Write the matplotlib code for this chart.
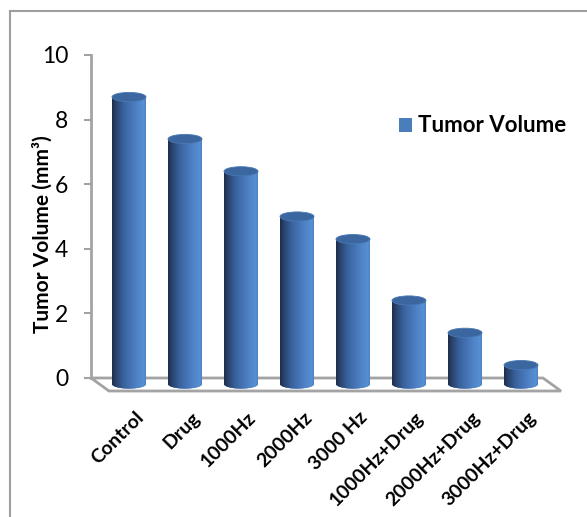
import numpy as np
import matplotlib
matplotlib.use("Agg")
import matplotlib.pyplot as plt
from matplotlib.patches import Polygon, Ellipse, Patch
from matplotlib.lines import Line2D
from matplotlib.colors import LinearSegmentedColormap
import matplotlib.transforms as mtransforms

# ---- data ----
categories = ["Control", "Drug", "1000Hz", "2000Hz", "3000 Hz",
              "1000Hz+Drug", "2000Hz+Drug", "3000Hz+Drug"]
tumor_volume = [8.7, 7.4, 6.4, 5.0, 4.3, 2.4, 1.4, 0.4]
y_ticks = [0, 2, 4, 6, 8, 10]
series_name = "Tumor Volume"
y_label = "Tumor Volume (mm³)"

plt.rcParams['font.family'] = ['Lato', 'DejaVu Sans']

W, H = 587, 517
fig = plt.figure(figsize=(W / 100, H / 100), dpi=100)

# axes placed in pixel terms
px_left, px_right, px_top, px_bottom = 91, 543, 55, 378
ax = fig.add_axes([px_left / W, 1 - px_bottom / H,
                   (px_right - px_left) / W, (px_bottom - px_top) / H])

slot_px = 56.0
first_center_px = 129.0
xlo = (px_left - first_center_px) / slot_px
xhi = (px_right - first_center_px) / slot_px
ypx = (px_bottom - px_top) / 10.0  # pixels per unit

# 3-D style offsets (in data units)
ddx = 18 / slot_px
ddy = -13 / ypx
half_w = 17 / slot_px
ell_h = 4.6 / ypx
base = -6 / ypx

gray = '#a3a3a3'

# floor
floor = Polygon([(xlo, 0), (xhi, 0), (xhi + ddx, ddy), (xlo + ddx, ddy)],
                closed=True, fill=False, edgecolor=gray, lw=2.0,
                clip_on=False, zorder=1)
ax.add_patch(floor)

cyl_cmap = LinearSegmentedColormap.from_list(
    "cyl", [(0.0, '#1d2d4b'), (0.12, '#2a436c'), (0.35, '#3a639e'),
            (0.6, '#4777b9'), (0.8, '#5188cb'), (0.94, '#588fd4'), (1.0, '#4d7fbf')])
grad = np.linspace(0, 1, 256).reshape(1, -1)

x = np.arange(len(categories))
theta = np.linspace(np.pi, 2 * np.pi, 60)
for c, v in zip(x, tumor_volume):
    pts = [(c + half_w * np.cos(t), base + ell_h * np.sin(t)) for t in theta]
    pts += [(c + half_w, v), (c - half_w, v)]
    body = Polygon(pts, closed=True, facecolor='#3f6ba3', edgecolor='none',
                   clip_on=False, zorder=2)
    ax.add_patch(body)
    im = ax.imshow(grad, cmap=cyl_cmap, extent=[c - half_w, c + half_w, base - ell_h, v],
                   aspect='auto', interpolation='bilinear', zorder=3)
    im.set_clip_box(fig.bbox)
    im.set_clip_path(body)
    top = Ellipse((c, v), 2 * half_w, 2 * ell_h, facecolor='#3b66a0',
                  edgecolor='#4a7ab5', lw=0.6, clip_on=False, zorder=4)
    ax.add_patch(top)

ax.set_xlim(xlo, xhi)
ax.set_ylim(0, 10)

# axes styling
for s in ['top', 'right', 'bottom']:
    ax.spines[s].set_visible(False)
ax.spines['left'].set_color(gray)
ax.spines['left'].set_linewidth(2.0)
ax.set_yticks(y_ticks)
ax.set_yticklabels([str(t) for t in y_ticks])
ax.tick_params(axis='y', direction='out', length=5, width=1.5, color=gray,
               labelsize=16.5, pad=11.5, labelcolor='black')

ax.set_xticks(x)
ax.set_xticklabels(categories, rotation=45, ha='right', va='top',
                   rotation_mode='anchor', fontsize=14, fontweight='bold')
ax.tick_params(axis='x', length=0, pad=22)
shift = mtransforms.ScaledTranslation(6 / 100, 0, fig.dpi_scale_trans)
for lab in ax.get_xticklabels():
    lab.set_transform(lab.get_transform() + shift)

ax.set_ylabel(y_label, fontsize=15, fontweight='bold')
ax.yaxis.set_label_coords((53 - px_left) / (px_right - px_left),
                          (px_bottom - 234) / (px_bottom - px_top))

# legend
ax.legend(handles=[Patch(facecolor='#4a7ebb', edgecolor='none', label=series_name)],
          loc='center left', bbox_to_anchor=(399 / W, 1 - 126 / H),
          bbox_transform=fig.transFigure, frameon=False,
          prop=dict(weight='bold', size=16), handlelength=0.6, handleheight=0.6,
          handletextpad=0.27, borderpad=0, borderaxespad=0)

# outer frame (left and top edges visible)
fig.add_artist(Line2D([10 / W, 10 / W], [1 - 11 / H, 0], transform=fig.transFigure,
                      color='#9e9e9e', lw=1.5))
fig.add_artist(Line2D([10 / W, 1], [1 - 11 / H, 1 - 11 / H], transform=fig.transFigure,
                      color='#9e9e9e', lw=1.5))

fig.savefig("out.png", dpi=100)
